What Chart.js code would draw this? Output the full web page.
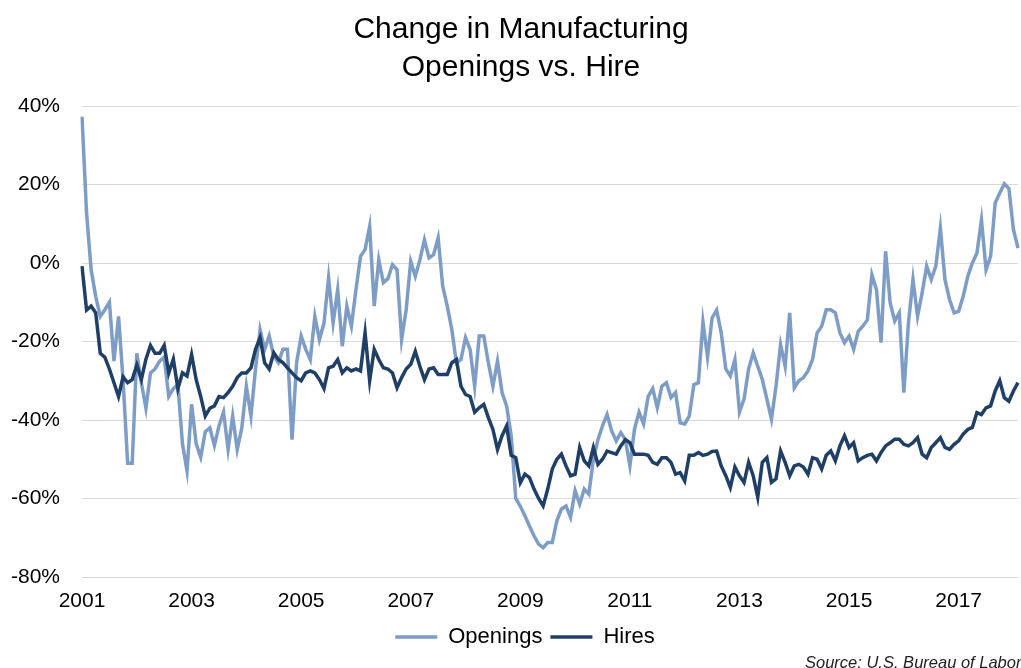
<!DOCTYPE html>
<html>
<head>
<meta charset="utf-8">
<title>Change in Manufacturing Openings vs. Hire</title>
<script src="https://cdn.jsdelivr.net/npm/chart.js@4.4.1/dist/chart.umd.min.js"></script>
<style>
    html, body { margin: 0; padding: 0; background: #ffffff; }
    #wrap { position: relative; width: 1021px; height: 668px; }
</style>
</head>
<body>
<div id="wrap"><canvas id="myLineChart"></canvas></div>
<script>
    // monthly series, Jan 2001 onwards (% change)
    const startYear = 2001;
    const yearTicks = ['2001', '2003', '2005', '2007', '2009', '2011', '2013', '2015', '2017'];

    const openings = [
        37.3, 12.7, -1.7, -8.5, -13.6, -11.9, -10, -25, -13.6, -30,
        -51, -51, -23, -30.5, -37, -28, -27, -25, -24, -34,
        -32, -31, -46, -53, -36, -46, -49.5, -43, -42, -46.5,
        -41.5, -38, -47.5, -39, -47.5, -42, -31.4, -39, -27, -17,
        -22, -18.6, -23.7, -25.4, -22, -22, -45, -25.4, -18.6, -22,
        -24.6, -13.6, -19.5, -15.3, -3.8, -15.3, -6.8, -21.2, -11, -16.1,
        -6.8, 1.7, 3.4, 9.3, -11, 0.8, -5, -4, -0.4, -1.7,
        -19.5, -11.9, 0.4, -3.4, 0.8, 5.9, 1.3, 2.1, 6.4, -5.9,
        -11, -17, -25.4, -24.6, -19, -22, -31.4, -18.6, -18.6, -25.4,
        -31.4, -25, -33, -36.4, -44, -60, -62, -64.4, -67, -69.5,
        -71.6, -72.5, -71.2, -71.2, -65.7, -62.7, -61.9, -64.8, -58, -61.4,
        -57.6, -58.9, -50, -45, -41.5, -38.6, -42.8, -45.3, -43.2, -45,
        -51.7, -42.4, -38, -41, -34, -32, -36.9, -31.4, -30.5, -34.3,
        -33, -40.7, -41, -39, -31, -30.5, -15, -24, -14, -12,
        -17.8, -27, -28.8, -24.6, -38, -34.7, -27, -22.9, -26.3, -29.7,
        -34.7, -39.8, -31.4, -20.8, -26.3, -12.7, -31.8, -30, -29.2, -27.5,
        -24.6, -17.8, -16.1, -11.9, -11.9, -12.7, -17.8, -20.3, -18.6, -22,
        -17.4, -16.1, -14.5, -3, -6.8, -20.3, 3, -10.2, -14.8, -12.7,
        -33, -15.3, -4.2, -13.6, -7.6, -0.8, -4.2, -0.8, 8.9, -4.2,
        -9.3, -12.7, -12.3, -8.5, -3.4, 0, 2.5, 11, -1.7, 1.7,
        15.3, 17.8, 20.2, 19, 8.5, 3.8
    ];

    const hires = [
        -0.8, -12, -11, -12.7, -23, -24, -27, -30.5, -34, -29,
        -30.5, -29.7, -26, -29.7, -24.5, -21, -23, -23, -21, -28,
        -24.5, -32, -28, -28.8, -23.3, -29.7, -34, -39, -37, -36.4,
        -34, -34.3, -33, -31.4, -29.2, -28, -28, -26.7, -22, -19,
        -25.4, -27, -22.9, -24.6, -25.4, -26.7, -28, -29.2, -30, -28,
        -27.5, -28, -29.7, -32, -26.7, -26.3, -24.6, -28, -26.7, -27.5,
        -27, -27.5, -17.8, -30, -22, -24.6, -26.7, -27, -28, -31.8,
        -29.2, -27, -25.8, -22.5, -26.3, -29.7, -27, -26.7, -28.4, -28.4,
        -28.4, -25.4, -24.6, -31.4, -33.5, -34, -38, -36.9, -36, -39.4,
        -42.4, -47.5, -44, -41.5, -49, -49.6, -56, -53.8, -54.7, -57.6,
        -60, -61.9, -57.6, -52.5, -50, -48.7, -51.7, -54.2, -53.8, -47,
        -50.4, -51.7, -47, -51.3, -50, -47.9, -48.3, -48.7, -46.6, -45,
        -45.8, -48.7, -48.7, -48.7, -49, -50.8, -51.3, -49.6, -49.6, -50.8,
        -53.8, -53.4, -55.5, -49, -49, -48.3, -49, -48.7, -48, -47.9,
        -51.7, -54.2, -57.2, -52, -54.2, -55.9, -50.8, -54.2, -59.7, -50.8,
        -49.6, -55.9, -55, -47.9, -50.8, -54.2, -51.7, -51.3, -52, -53.8,
        -49.6, -50, -52.5, -49, -47.9, -50.4, -46.6, -44, -47, -45.8,
        -50.4, -49.6, -49, -48.7, -50.4, -48.3, -46.6, -45.8, -44.9, -44.9,
        -46.2, -46.6, -45.8, -44.5, -48.7, -49.6, -47, -45.8, -44.5, -47,
        -47.5, -46.2, -45.3, -43.6, -42.4, -41.9, -38.1, -38.6, -36.9, -36.4,
        -32.6, -30, -34.3, -35.2, -32.6, -30.5
    ];

    const months = [];
    for (let i = 0; i < openings.length; i++) {
        const y = startYear + Math.floor(i / 12);
        const m = (i % 12) + 1;
        months.push(y + '-' + (m < 10 ? '0' + m : m));
    }

    const FONT = "'Liberation Sans', Arial, Helvetica, sans-serif";

    // title and legend sit a little right of the canvas centre in the original
    const nudgePlugin = {
        id: 'nudgeBoxes',
        afterLayout: function (chart) {
            if (chart.titleBlock) {
                chart.titleBlock.left += 12;
                chart.titleBlock.right += 12;
            }
            if (chart.legend) {
                chart.legend.left += 16;
                chart.legend.right += 16;
            }
        }
    };

    // source note, bottom right
    const sourcePlugin = {
        id: 'sourceNote',
        afterDraw: function (chart) {
            const ctx = chart.ctx;
            ctx.save();
            ctx.font = 'italic 16.5px ' + FONT;
            ctx.fillStyle = '#222';
            ctx.textAlign = 'left';
            ctx.textBaseline = 'alphabetic';
            ctx.fillText('Source: U.S. Bureau of Labor', 805, 668);
            ctx.restore();
        }
    };

    const ctx = document.getElementById('myLineChart').getContext('2d');
    new Chart(ctx, {
        type: 'line',
        data: {
            labels: months,
            datasets: [{
                label: 'Openings',
                data: openings,
                borderColor: '#7d9dc7',
                backgroundColor: '#7d9dc7',
                borderWidth: 3.5,
                pointRadius: 0,
                tension: 0,
                order: 1
            }, {
                label: 'Hires',
                data: hires,
                borderColor: '#1f3f66',
                backgroundColor: '#1f3f66',
                borderWidth: 3.5,
                pointRadius: 0,
                tension: 0,
                order: 0
            }]
        },
        options: {
            responsive: true,
            maintainAspectRatio: false,
            animation: false,
            layout: {
                padding: { left: 0, right: 3, top: 0, bottom: 10 }
            },
            plugins: {
                title: {
                    display: true,
                    text: ['Change in Manufacturing', 'Openings vs. Hire'],
                    color: '#000',
                    font: { family: FONT, size: 30, weight: 'normal', lineHeight: 1.25 },
                    padding: { top: 11, bottom: 20 }
                },
                legend: {
                    position: 'bottom',
                    labels: {
                        color: '#000',
                        font: { family: FONT, size: 22 },
                        usePointStyle: true,
                        pointStyle: 'line',
                        pointStyleWidth: 42,
                        boxWidth: 42,
                        padding: 8,
                        sort: function (a, b) { return a.datasetIndex - b.datasetIndex; }
                    }
                },
                tooltip: { enabled: false }
            },
            scales: {
                x: {
                    grid: { display: false, drawTicks: false },
                    border: { display: false },
                    afterFit: function (scale) {
                        scale.height = 41;
                        scale.paddingLeft = 0;
                        scale.paddingRight = 0;
                    },
                    ticks: {
                        autoSkip: false,
                        maxRotation: 0,
                        minRotation: 0,
                        padding: 12,
                        color: '#000',
                        font: { family: FONT, size: 21 },
                        callback: function (value, index) {
                            return index % 24 === 0 ? yearTicks[index / 24] : '';
                        }
                    }
                },
                y: {
                    min: -80,
                    max: 40,
                    grid: { color: '#d9d9d9', lineWidth: 1, drawTicks: false },
                    border: { display: false },
                    afterFit: function (scale) { scale.width = 82; },
                    ticks: {
                        stepSize: 20,
                        padding: 22,
                        color: '#000',
                        font: { family: FONT, size: 21 },
                        callback: function (value) { return value + '%'; }
                    }
                }
            }
        },
        plugins: [nudgePlugin, sourcePlugin]
    });
</script>
</body>
</html>
